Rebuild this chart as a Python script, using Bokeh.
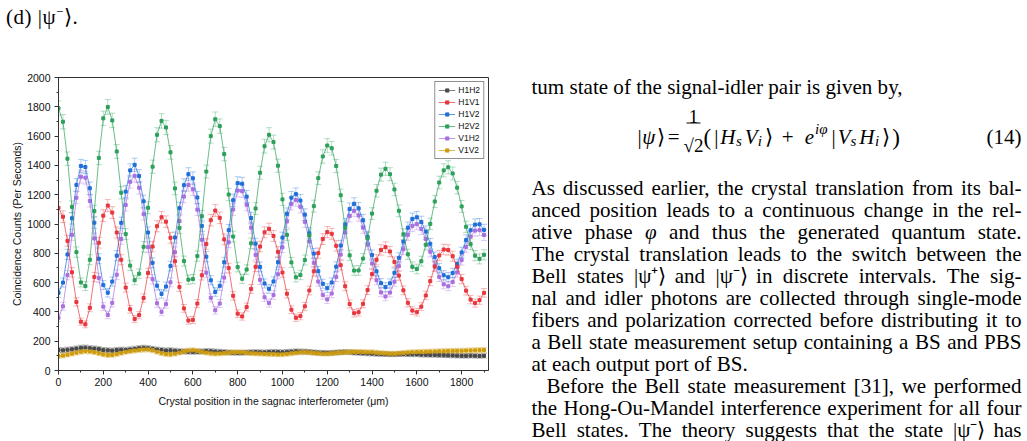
import os, glob
from bokeh.plotting import figure
from bokeh.layouts import row, column
from bokeh.models import (ColumnDataSource, Whisker, TeeHead, Legend, LegendItem,
                          SingleIntervalTicker, Range1d, Div)
from bokeh.core.properties import value
from bokeh.embed import file_html
from bokeh.resources import INLINE

# ---------------- data ----------------
crystal_pos = list(range(0, 1901, 20))  # µm

h1h2 = [140,138,142,145,150,155,156,152,150,146,
        140,138,136,140,142,141,144,148,152,155,
        152,148,143,140,137,138,135,132,130,128,
        127,128,130,133,132,130,128,126,123,121,
        120,121,123,125,126,125,124,126,127,126,
        125,127,129,131,130,129,127,124,122,121,
        120,121,123,125,126,125,122,120,118,116,
        115,113,112,111,110,110,111,112,111,110,
        110,108,107,106,106,105,104,103,102,101,
        100,100,101,100,99,100]

h1v1 = [1110,1050,885,670,468,333,
        315,428,638,872,1057,
        1126,1078,942,756,566,418,351,
        378,495,666,846,985,1046,
        1016,906,746,570,424,341,
        345,457,650,863,1026,1092,
        1042,895,699,510,388,
        369,433,557,708,846,943,967,
        918,810,669,524,415,360,
        371,438,546,677,801,897,945,
        933,851,719,575,454,391,
        398,455,549,658,756,823,842,
        812,741,648,547,462,409,
        398,436,512,610,709,785,826,
        823,780,708,624,545,484,460,480,530]

h1v2 = [530,600,792,1039,1267,1396,
        1389,1244,1009,763,583,
        531,607,784,1008,1221,1366,1404,
        1327,1155,942,735,579,523,
        573,713,908,1108,1265,1340,
        1312,1181,987,777,616,536,
        578,739,958,1162,1279,
        1275,1187,1041,866,707,594,557,
        608,739,907,1070,1180,
        1204,1160,1064,937,798,678,592,562,
        601,709,853,997,1103,1138,
        1107,1026,913,788,677,596,569,
        595,667,769,880,975,1035,
        1046,1014,949,865,774,698,650,
        637,665,727,806,890,957,996,998,960]

h2v2 = [1790,1698,1446,1117,808,601,
        576,756,1088,1451,1721,
        1799,1707,1495,1214,931,716,616,
        661,844,1111,1391,1609,1704,
        1659,1489,1243,973,747,620,
        624,781,1053,1358,1600,1715,
        1668,1477,1201,914,706,626,
        689,868,1106,1350,1531,1609,
        1559,1398,1168,926,738,636,
        652,754,922,1122,1313,1461,1536,
        1517,1396,1196,974,786,682,
        683,764,904,1071,1227,1337,1377,
        1340,1236,1090,930,793,708,
        693,746,858,1001,1154,1283,1366,
        1387,1345,1248,1120,981,862,784,762,790]

v1h2 = [360,438,651,926,1179,1323,
        1316,1157,901,632,436,
        379,462,654,898,1130,1288,1329,
        1247,1067,842,623,459,400,
        453,602,808,1020,1187,1267,
        1237,1098,892,668,496,411,
        457,634,875,1099,1228,
        1224,1131,975,789,619,500,460,
        515,657,841,1017,1137,
        1163,1117,1015,881,735,607,516,485,
        526,639,791,942,1054,1090,
        1058,975,859,730,616,533,505,
        532,606,712,827,926,987,
        999,966,898,811,717,639,588,
        575,604,670,754,843,914,955,958,925]

v1v2 = [98,102,108,115,122,128,132,130,125,118,
        110,105,106,112,120,127,132,136,140,143,
        144,138,128,118,112,110,115,122,130,136,
        138,134,128,122,117,115,116,119,122,124,
        125,124,121,118,116,115,113,112,111,110,
        110,113,117,121,124,125,123,120,117,115,
        115,117,120,123,125,126,127,127,126,125,
        125,122,119,117,115,115,117,120,123,125,
        126,127,128,129,130,131,132,133,134,134,
        135,136,137,138,139,140]

series_names = ["H1H2", "H1V1", "H1V2", "H2V2", "V1H2", "V1V2"]
series_vals = [h1h2, h1v1, h1v2, h2v2, v1h2, v1v2]
series_cols = ["#4a4a4a", "#e8363c", "#1f6fd9", "#2ca05a", "#a96fe0", "#cf9c0c"]
draw_order = [0, 5, 4, 2, 1, 3]

x_ticks_interval = 200
y_ticks_interval = 200

# ---------------- page geometry ----------------
W, H = 1027, 441
LW = 500                     # width of the left column
CAP_H = 67                   # height of the caption strip above the chart
FL, FR, FT, FB = 58, 488, 77, 370   # chart frame edges in page pixels

p = figure(width=LW, height=H - CAP_H, x_range=(0, 1920), y_range=(0, 2000),
           output_backend="svg", toolbar_location=None,
           min_border_left=FL, min_border_right=LW - FR,
           min_border_top=FT - CAP_H, min_border_bottom=H - FB)
p.background_fill_color = "white"
p.border_fill_color = "white"
p.outline_line_color = "#333333"
p.outline_line_width = 1
p.xgrid.visible = False
p.ygrid.visible = False

p.xaxis.ticker = SingleIntervalTicker(interval=x_ticks_interval, num_minor_ticks=2)
p.yaxis.ticker = SingleIntervalTicker(interval=y_ticks_interval, num_minor_ticks=2)
for ax in (p.xaxis[0], p.yaxis[0]):
    ax.axis_line_color = "#333333"
    ax.major_tick_line_color = "#333333"
    ax.minor_tick_line_color = "#333333"
    ax.major_tick_out = 4
    ax.major_tick_in = 0
    ax.minor_tick_out = 2
    ax.minor_tick_in = 0
    ax.major_label_text_font = "Liberation Sans"
    ax.major_label_text_font_size = "10.5px"
    ax.major_label_text_color = "#111111"
    ax.axis_label_text_font = "Liberation Sans"
    ax.axis_label_text_font_size = "10.5px"
    ax.axis_label_text_font_style = "normal"
    ax.axis_label_text_color = "#111111"
p.xaxis.major_label_standoff = 3
p.yaxis.major_label_standoff = 4
p.xaxis.axis_label = "Crystal position in the sagnac interferometer (\u03bcm)"
p.xaxis.axis_label_standoff = 6
p.yaxis.axis_label = "Coincidence Counts (Per Seconds)"
p.yaxis.axis_label_standoff = 1

rend = {}
for i in draw_order:
    name, vals, col = series_names[i], series_vals[i], series_cols[i]
    err = [1.1 * (v ** 0.5) + 4 for v in vals]
    src = ColumnDataSource(dict(x=crystal_pos, y=vals,
                                lower=[v - e for v, e in zip(vals, err)],
                                upper=[v + e for v, e in zip(vals, err)]))
    wk = Whisker(source=src, base="x", upper="upper", lower="lower",
                 line_color=col, line_alpha=0.35, line_width=1,
                 upper_head=TeeHead(size=6, line_color=col, line_alpha=0.35, line_width=1),
                 lower_head=TeeHead(size=6, line_color=col, line_alpha=0.35, line_width=1))
    p.add_layout(wk)
    r1 = p.line("x", "y", source=src, line_color=col, line_width=1, line_alpha=0.7)
    r2 = p.scatter("x", "y", source=src, marker="square", size=3,
                   fill_color=col, line_color=col)
    rend[i] = (r1, r2)

legend_items = [LegendItem(label=n, renderers=list(rend[i])) for i, n in enumerate(series_names)]
leg = Legend(items=legend_items, location="top_right")
leg.border_line_color = "#222222"
leg.border_line_width = 1
leg.background_fill_color = "white"
leg.background_fill_alpha = 1
leg.label_text_font = "Liberation Sans"
leg.label_text_font_size = "8.5px"
leg.label_text_color = "#111111"
leg.glyph_width = 17
leg.glyph_height = 8
leg.label_height = 8
leg.label_standoff = 3
leg.spacing = 2
leg.padding = 3
leg.margin = 4
p.add_layout(leg)

# ---------------- page text ----------------
SERIF = "Liberation Serif"

cap = Div(text="(d) |\u03c8<sup style='font-size:13px'>\u2212</sup>\u27e9.",
          width=LW, height=CAP_H, margin=0,
          styles={"font-family": SERIF, "font-size": "21px", "color": "black",
                  "letter-spacing": "0.5px",
                  "padding-left": "6px", "padding-top": "0px", "line-height": "24px",
                  "background": "white"})


def canvas(x0, y0, w, h):
    c = figure(width=w, height=h, x_range=Range1d(x0, x0 + w), y_range=Range1d(y0 + h, y0),
               output_backend="svg", toolbar_location=None,
               x_axis_location=None, y_axis_location=None,
               min_border=0, min_border_left=0, min_border_right=0,
               min_border_top=0, min_border_bottom=0)
    c.xgrid.visible = False
    c.ygrid.visible = False
    c.outline_line_color = None
    c.background_fill_color = "white"
    c.border_fill_color = "white"
    return c


txt = canvas(LW, 0, W - LW, H)

try:
    from PIL import ImageFont
except Exception:
    ImageFont = None


def _find(fname):
    for base in ["/usr/share/fonts", "/usr/local/share/fonts",
                 os.path.expanduser("~/.fonts"), os.path.expanduser("~/.local/share/fonts")]:
        hits = glob.glob(os.path.join(base, "**", fname), recursive=True)
        if hits:
            return hits[0]
    return None


_fonts = {}
_SUBST = {"\u27e9": "(", "\u207a": "i", "\u207b": "i", "\u221a": "v"}


def text_w(s, size, italic=False):
    if italic not in _fonts:
        f = None
        path = _find("LiberationSerif-Italic.ttf" if italic else "LiberationSerif-Regular.ttf")
        if ImageFont is not None and path:
            try:
                f = ImageFont.truetype(path, 100)
            except Exception:
                f = None
        _fonts[italic] = f
    f = _fonts[italic]
    s2 = "".join(_SUBST.get(ch, ch) for ch in s)
    if f is None:
        return 0.45 * size * len(s2)
    return f.getlength(s2) * size / 100.0


def put(c, text, x, y, size, italic=False, align="left"):
    c.text(x=[x], y=[y], text=[text], text_font=value(SERIF),
           text_font_size=value(f"{size}px"),
           text_font_style="italic" if italic else "normal",
           text_align=align, text_baseline="alphabetic", text_color="black")


TX0, TX1 = 531, 1021

body = [
    ("As discussed earlier, the crystal translation from its bal-", True, 0),
    ("anced position leads to a continuous change in the rel-", True, 0),
    ("ative phase \u03c6 and thus the generated quantum state.", True, 0),
    ("The crystal translation leads to the switch between the", True, 0),
    ("Bell states |\u03c8\u207a\u27e9 and |\u03c8\u207b\u27e9 in discrete intervals. The sig-", True, 0),
    ("nal and idler photons are collected through single-mode", True, 0),
    ("fibers and polarization corrected before distributing it to", True, 0),
    ("a Bell state measurement setup containing a BS and PBS", True, 0),
    ("at each output port of BS.", False, 0),
    ("Before the Bell state measurement [31], we performed", True, 15),
    ("the Hong-Ou-Mandel interference experiment for all four", True, 0),
    ("Bell states. The theory suggests that the state |\u03c8\u207b\u27e9 has", True, 0),
]

# largest body size for which every justified line still fits its measure
fits = []
for line, just, indent in body:
    if just:
        fits.append((TX1 - TX0 - indent - 6) / text_w(line, 1.0))
TS = max(18.0, min(21.5, min(fits)))


def put_line(c, line, x0, x1, base, justify=True, italic_words=()):
    words = line.split(" ")
    widths = [text_w(w, TS, w in italic_words) for w in words]
    if justify and len(words) > 1:
        gap = (x1 - x0 - sum(widths)) / (len(words) - 1)
    else:
        gap = text_w(" ", TS)
    x = x0
    for w, wd in zip(words, widths):
        put(c, w, x, base, TS, italic=(w in italic_words))
        x += wd + gap


def put_runs(c, runs, x0, base):
    x = x0
    for text, italic, size, dy, extra in runs:
        put(c, text, x, base + dy, size, italic=italic)
        x += text_w(text, size, italic) + extra
    return x


put_line(txt, "tum state of the signal-idler pair is given by,", TX0, TX1, 86, justify=False)

# equation (14)
EB = 136
put_runs(txt, [("|", False, 21, 0, 0.5), ("\u03c8", True, 21, 0, 1.5), ("\u27e9", False, 21, 0, 4),
               ("=", False, 21, 0, 0)], 637, EB)
put(txt, "1", 693, 116, 19, align="center")
txt.line(x=[686, 700], y=[122.5, 122.5], line_color="black", line_width=1)
put(txt, "\u221a2", 693, 145, 19, align="center")
put_runs(txt, [("(", False, 23, 1, 3), ("|", False, 21, 0, 2), ("H", True, 21, 0, 0.5),
               ("s", True, 15, 4, 3), ("V", True, 21, 0, 0), ("i", True, 15, 4, 3),
               ("\u27e9", False, 21, 0, 10), ("+", False, 21, 0, 11),
               ("e", True, 21, 0, 1), ("i\u03c6", True, 15, -8, 4),
               ("|", False, 21, 0, 2), ("V", True, 21, 0, 0), ("s", True, 15, 4, 3),
               ("H", True, 21, 0, 0.5), ("i", True, 15, 4, 3), ("\u27e9", False, 21, 0, 3),
               (")", False, 23, 1, 0)], 703, EB)
put(txt, "(14)", TX1, EB, 21, align="right")

base0, step = 187, 22.0
for k, (line, just, indent) in enumerate(body):
    put_line(txt, line, TX0 + indent, TX1, base0 + k * step, justify=just,
             italic_words=("\u03c6",))

page = row(column(cap, p, spacing=0), txt, spacing=0)
open("out.html", "w").write(file_html(page, INLINE))
